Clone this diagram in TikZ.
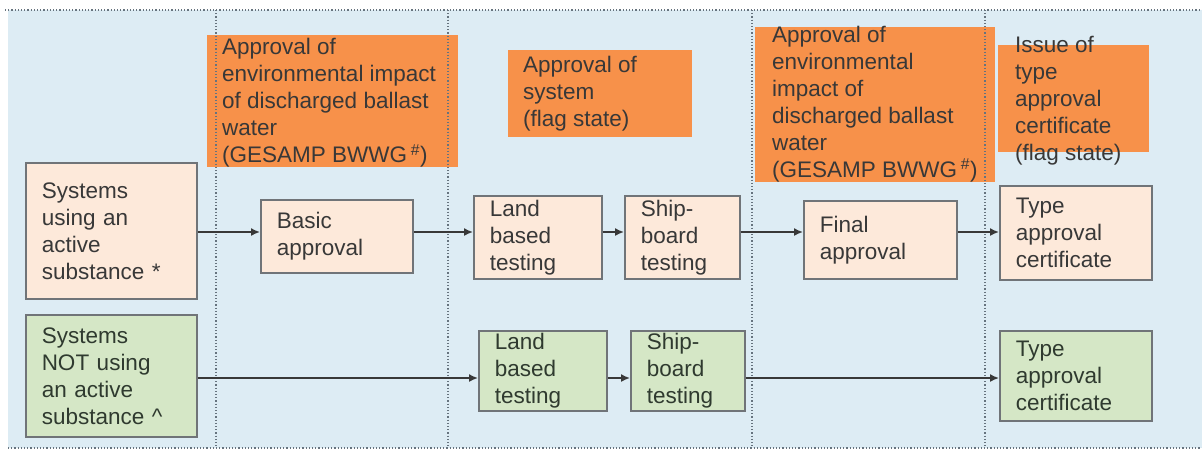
\documentclass[tikz,border=0pt]{standalone}
\usepackage{fontspec}
\setmainfont{Liberation Sans}
\usetikzlibrary{arrows.meta}
\definecolor{bgblue}{HTML}{DDECF4}
\definecolor{stageor}{HTML}{F7914A}
\definecolor{peach}{HTML}{FDE9DA}
\definecolor{leaf}{HTML}{D5E7C6}
\definecolor{edge}{HTML}{707478}
\definecolor{ink}{HTML}{383838}
\definecolor{inkg}{HTML}{2F3A2F}
\definecolor{divider}{HTML}{66737E}
\begin{document}
\begin{tikzpicture}[x=1pt,y=-1pt,
  font=\fontsize{22.5}{27}\selectfont,
  box/.style={draw=edge, line width=1.5pt, inner xsep=16pt, inner ysep=0pt,
              align=left, anchor=north west},
  peachbox/.style={box, fill=peach, text=ink},
  greenbox/.style={box, fill=leaf, text=inkg},
  stage/.style={fill=stageor, inner sep=0pt, anchor=north west},
  stagetext/.style={inner sep=0pt, align=left, anchor=west, text=ink},
  divline/.style={draw=divider, line width=1.2pt, dotted},
  flow/.style={draw=ink, line width=1.6pt, -{Latex[length=9pt,width=8pt]}}]
\useasboundingbox (0,0) rectangle (1202,451);

% panel
\fill[bgblue] (8,10) rectangle (1202,448);

% stage headings: coloured blocks, then their captions
\node[stage, minimum width=251, minimum height=132] (o1) at (207,35) {};
\node[stage, minimum width=184, minimum height=87] (o2) at (508,50) {};
\node[stage, minimum width=240, minimum height=155] (o3) at (755,27) {};
\node[stage, minimum width=151, minimum height=107] (o4) at (998,45) {};

\node[stagetext] (o1t) at (222,103)
  {Approval of\\environmental impact\\of discharged ballast\\water\\(GESAMP BWWG\,\textsuperscript{\#})};
\node[stagetext] (o2t) at (523,94)
  {Approval of\\system\\(flag state)};
\node[stagetext] (o3t) at (772,104)
  {Approval of\\environmental\\impact of\\discharged ballast\\water\\(GESAMP BWWG\,\textsuperscript{\#})};
\node[stagetext] (o4t) at (1015,101)
  {Issue of\\type\\approval\\certificate\\(flag state)};

% stage dividers and frame
\draw[divline] (5,10) -- (1202,10);
\draw[divline] (8,448) -- (1202,448);
\foreach \xx in {216,448,752,985}
  \draw[divline] (\xx,10) -- (\xx,448);

% flow rows
\coordinate (row1) at (0,232);
\coordinate (row2) at (0,378);

% systems using an active substance
\node[peachbox, minimum height=136, text width=139] (s1) at (25,162)
  {Systems\\using an\\active\\substance *};
\node[peachbox, minimum height=73, text width=120] (basic) at (260,199)
  {Basic\\approval};
\node[peachbox, minimum height=83, text width=96] (land1) at (473,195)
  {Land\\based\\testing};
\node[peachbox, minimum height=83, text width=83] (ship1) at (624,195)
  {Ship-\\board\\testing};
\node[peachbox, minimum height=78, text width=121] (final) at (803,200)
  {Final\\approval};
\node[peachbox, minimum height=94, text width=120] (type1) at (999,185)
  {Type\\approval\\certificate};

% systems not using an active substance
\node[greenbox, minimum height=122, text width=139] (s2) at (25,314)
  {Systems\\NOT using\\an active\\substance \textasciicircum};
\node[greenbox, minimum height=80, text width=96] (land2) at (478,330)
  {Land\\based\\testing};
\node[greenbox, minimum height=80, text width=82] (ship2) at (630,330)
  {Ship-\\board\\testing};
\node[greenbox, minimum height=90, text width=120] (type2) at (999,330)
  {Type\\approval\\certificate};

% connectors
\draw[flow] (s1.east |- row1) -- (basic.west |- row1);
\draw[flow] (basic.east |- row1) -- (land1.west |- row1);
\draw[flow] (land1.east |- row1) -- (ship1.west |- row1);
\draw[flow] (ship1.east |- row1) -- (final.west |- row1);
\draw[flow] (final.east |- row1) -- (type1.west |- row1);

\draw[flow] (s2.east |- row2) -- (land2.west |- row2);
\draw[flow] (land2.east |- row2) -- (ship2.west |- row2);
\draw[flow] (ship2.east |- row2) -- (type2.west |- row2);
\end{tikzpicture}
\end{document}
